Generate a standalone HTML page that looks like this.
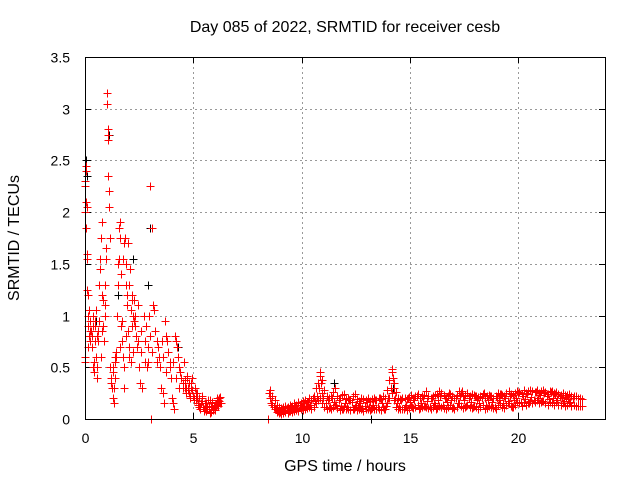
<!DOCTYPE html>
<html><head><meta charset="utf-8"><style>
body{margin:0;background:#fff}
svg{display:block;font-family:"Liberation Sans",sans-serif}
</style></head><body>
<svg id="chart" width="640" height="480">
<rect width="640" height="480" fill="#fff"/>
<g id="grid"></g>
<g id="ticks"></g>
<g id="black" stroke="#000" stroke-width="1" fill="none"></g>
<g id="red" stroke="#ff0000" stroke-width="1" fill="none"></g>
<rect x="85.5" y="57.5" width="520" height="362" fill="none" stroke="#000"/>
<text x="345" y="32" font-size="16" text-anchor="middle">Day 085 of 2022, SRMTID for receiver cesb</text>
<text x="345" y="471" font-size="16" text-anchor="middle">GPS time / hours</text>
<text x="19" y="238" font-size="16" text-anchor="middle" transform="rotate(-90 19 238)">SRMTID / TECUs</text>
</svg>
<script>
const xTicks=[0,5,10,15,20];
const yTicks=[0,0.5,1,1.5,2,2.5,3,3.5];
const yTickLabels=["0","0.5","1","1.5","2","2.5","3","3.5"];
const redTimes=[0,0,0,0.02,0.02,0.03,0.04,0.05,0.06,0.07,0.08,0.1,0.1,0.12,0.14,0.15,0.17,0.2,0.22,0.25,0.27,0.3,0.32,0.35,0.37,0.4,0.42,0.45,0.47,0.5,0.52,0.55,0.57,0.6,0.62,0.65,0.67,0.7,0.72,0.75,0.77,0.8,0.82,0.85,0.88,0.9,0.92,0.95,0.98,1.0,1.02,1.04,1.05,1.06,1.08,1.1,1.12,1.15,1.17,1.2,1.22,1.25,1.27,1.3,1.32,1.35,1.37,1.4,1.42,1.45,1.48,1.5,1.52,1.55,1.57,1.6,1.62,1.65,1.68,1.7,1.72,1.75,1.78,1.8,1.82,1.85,1.88,1.9,1.92,1.95,1.98,2.0,2.02,2.05,2.08,2.1,2.12,2.15,2.18,2.2,2.22,2.25,2.28,2.3,2.35,2.4,2.45,2.5,2.55,2.6,2.65,2.7,2.75,2.8,2.85,2.9,2.95,3.0,3.0,3.05,3.1,3.15,3.2,3.25,3.3,3.35,3.4,3.45,3.5,3.55,3.6,3.65,3.7,3.75,3.8,3.85,3.9,3.95,4.0,4.05,4.1,4.15,4.2,4.25,4.3,4.35,4.4,4.45,4.5,4.55,4.6,4.65,4.7,4.75,4.8,4.85,4.9,4.95,5.0,5.05,5.1,5.15,5.2,5.25,5.3,5.35,5.4,5.45,5.5,5.55,5.6,5.65,5.7,5.75,5.8,5.85,5.9,5.95,6.0,6.05,6.1,6.15,6.2,6.25,
8.45,8.5,8.55,8.6,8.7,8.8,8.9,9.0,9.1,9.2,9.3,9.4,9.5,9.6,9.7,9.8,9.9,10.0,10.1,10.2,10.3,10.4,10.5,10.6,10.7,10.8,10.85,10.9,10.95,11.0,11.1,11.2,11.3,11.4,11.5,11.6,11.7,11.8,11.9,12.0,12.1,12.2,12.3,12.4,12.5,12.6,12.7,12.8,12.9,13.0,13.1,13.2,13.3,13.4,13.5,13.6,13.7,13.8,13.9,14.0,14.1,14.15,14.2,14.25,14.3,14.4,14.5,14.6,14.7,14.8,14.9,15.0,15.1,15.2,15.3,15.4,15.5,15.6,15.7,15.8,15.9,16.0,16.1,16.2,16.3,16.4,16.5,16.6,16.7,16.8,16.9,17.0,17.1,17.2,17.3,17.4,17.5,17.6,17.7,17.8,17.9,18.0,18.1,18.2,18.3,18.4,18.5,18.6,18.7,18.8,18.9,19.0,19.1,19.2,19.3,19.4,19.5,19.6,19.7,19.8,19.9,20.0,20.1,20.2,20.3,20.4,20.5,20.6,20.7,20.8,20.9,21.0,21.1,21.2,21.3,21.4,21.5,21.6,21.7,21.8,21.9,22.0,22.1,22.2,22.3,22.4,22.5,22.6,22.7,22.8];
const redValues=[2.25,0.6,0.55,2.3,2.0,1.85,2.45,2.4,2.1,2.05,1.6,1.55,1.25,1.2,1.0,0.9,0.8,1.05,0.75,0.95,0.85,0.8,0.7,0.5,1.0,0.45,0.55,0.9,0.95,0.6,1.05,0.5,0.4,0.75,0.85,1.3,1.55,1.45,1.75,0.6,1.9,1.2,1.15,0.9,0.75,1.0,1.3,1.55,1.65,3.05,3.15,2.75,2.8,2.7,2.35,2.2,2.05,1.75,0.5,0.4,0.35,0.3,0.45,0.2,0.15,0.3,0.4,0.55,0.6,0.65,1.0,1.3,1.5,1.55,1.85,1.9,1.75,1.4,0.9,0.95,0.75,0.6,1.7,0.5,0.3,1.75,1.5,1.3,1.2,1.1,0.85,1.7,0.7,0.6,1.45,0.55,1.05,1.15,1.2,0.65,1.0,1.15,0.95,0.9,0.8,0.7,1.1,0.5,0.35,0.85,0.3,1.0,0.75,0.9,0.5,0.55,1.0,0.8,2.25,0,1.85,1.1,1.05,0.85,0.75,0.7,0.6,0.5,0.3,0.75,0.25,0.15,0.95,0.8,0.75,0.65,0.55,0.4,0.2,0.15,0.1,0.8,0.75,0.7,0.6,0.5,0.45,0.4,0.35,0.55,0.3,0.25,0.4,0.3,0.25,0.2,0.35,0.28,0.22,0.18,0.25,0.2,0.15,0.12,0.1,0.15,0.2,0.12,0.08,0.1,0.15,0.1,0.12,0.18,0.07,0.15,0.1,0.12,0.09,0.14,0.16,0.18,0.2,0.15,
0.0,0.25,0.2,0.15,0.12,0.1,0.08,0.07,0.1,0.09,0.11,0.08,0.12,0.1,0.13,0.11,0.14,0.12,0.15,0.13,0.16,0.14,0.2,0.17,0.22,0.3,0.45,0.35,0.25,0.2,0.15,0.18,0.12,0.2,0.16,0.14,0.18,0.13,0.1,0.15,0.12,0.18,0.16,0.1,0.14,0.12,0.15,0.11,0.13,0.16,0.12,0.1,0.14,0.18,0.12,0.2,0.15,0.1,0.13,0.2,0.3,0.48,0.4,0.3,0.2,0.15,0.12,0.18,0.1,0.14,0.2,0.16,0.12,0.18,0.22,0.1,0.15,0.2,0.13,0.17,0.12,0.2,0.15,0.1,0.18,0.22,0.14,0.2,0.16,0.25,0.18,0.12,0.2,0.15,0.22,0.27,0.18,0.13,0.2,0.16,0.12,0.22,0.18,0.15,0.2,0.25,0.14,0.18,0.22,0.16,0.12,0.2,0.18,0.24,0.15,0.2,0.17,0.22,0.12,0.18,0.2,0.25,0.16,0.22,0.19,0.24,0.15,0.21,0.18,0.26,0.2,0.23,0.17,0.25,0.22,0.19,0.26,0.2,0.24,0.18,0.22,0.2,0.17,0.21,0.19,0.16,0.2];
const bandTimes=[8.55,8.65,8.75,8.85,8.95,9.05,9.15,9.25,9.35,9.45,9.55,9.65,9.75,9.85,9.95,10.05,10.15,10.25,10.35,10.45,10.55,10.65,10.75,10.85,10.95,11.05,11.15,11.25,11.35,11.45,11.55,11.65,11.75,11.85,11.95,12.05,12.15,12.25,12.35,12.45,12.55,12.65,12.75,12.85,12.95,13.05,13.15,13.25,13.35,13.45,13.55,13.65,13.75,13.85,13.95,14.05,14.15,14.25,14.35,14.45,14.55,14.65,14.75,14.85,14.95,15.05,15.15,15.25,15.35,15.45,15.55,15.65,15.75,15.85,15.95,16.05,16.15,16.25,16.35,16.45,16.55,16.65,16.75,16.85,16.95,17.05,17.15,17.25,17.35,17.45,17.55,17.65,17.75,17.85,17.95,18.05,18.15,18.25,18.35,18.45,18.55,18.65,18.75,18.85,18.95,19.05,19.15,19.25,19.35,19.45,19.55,19.65,19.75,19.85,19.95,20.05,20.15,20.25,20.35,20.45,20.55,20.65,20.75,20.85,20.95,21.05,21.15,21.25,21.35,21.45,21.55,21.65,21.75,21.85,21.95,22.05,22.15,22.25,22.35,22.45,22.55,22.65,22.75,22.85,22.95];
const bandUpper=[0.28,0.22,0.18,0.14,0.12,0.11,0.12,0.13,0.12,0.14,0.13,0.15,0.14,0.16,0.15,0.17,0.18,0.16,0.2,0.18,0.22,0.3,0.35,0.42,0.38,0.28,0.22,0.2,0.22,0.26,0.3,0.22,0.2,0.23,0.24,0.19,0.2,0.18,0.22,0.24,0.19,0.17,0.2,0.19,0.18,0.2,0.17,0.19,0.2,0.18,0.2,0.19,0.22,0.2,0.28,0.38,0.45,0.35,0.26,0.2,0.19,0.2,0.2,0.19,0.21,0.23,0.2,0.22,0.24,0.2,0.22,0.23,0.27,0.22,0.2,0.22,0.23,0.24,0.27,0.25,0.23,0.2,0.22,0.24,0.22,0.2,0.23,0.27,0.25,0.22,0.23,0.25,0.22,0.24,0.23,0.22,0.21,0.22,0.24,0.2,0.22,0.23,0.22,0.2,0.22,0.25,0.24,0.23,0.22,0.25,0.27,0.24,0.23,0.25,0.27,0.26,0.24,0.28,0.25,0.27,0.28,0.27,0.26,0.28,0.25,0.27,0.28,0.26,0.24,0.27,0.27,0.25,0.26,0.24,0.23,0.25,0.23,0.23,0.24,0.22,0.22,0.22,0.2,0.2,0.19];
const bandLower=[0.2,0.14,0.1,0.07,0.06,0.05,0.06,0.07,0.06,0.08,0.07,0.08,0.09,0.08,0.1,0.09,0.1,0.11,0.12,0.1,0.12,0.15,0.18,0.2,0.15,0.12,0.1,0.11,0.1,0.12,0.14,0.11,0.09,0.1,0.12,0.1,0.1,0.09,0.1,0.12,0.09,0.1,0.1,0.08,0.1,0.1,0.09,0.11,0.1,0.1,0.1,0.09,0.12,0.1,0.15,0.2,0.25,0.18,0.12,0.1,0.1,0.1,0.12,0.09,0.11,0.13,0.11,0.12,0.14,0.11,0.12,0.13,0.12,0.11,0.1,0.12,0.14,0.11,0.13,0.12,0.11,0.1,0.12,0.14,0.11,0.1,0.12,0.15,0.13,0.11,0.12,0.14,0.12,0.11,0.13,0.12,0.1,0.12,0.14,0.1,0.11,0.13,0.12,0.11,0.1,0.14,0.15,0.12,0.11,0.14,0.15,0.13,0.12,0.14,0.16,0.15,0.13,0.16,0.14,0.15,0.17,0.15,0.16,0.18,0.15,0.16,0.17,0.15,0.14,0.16,0.15,0.14,0.16,0.14,0.14,0.15,0.13,0.14,0.15,0.13,0.14,0.13,0.13,0.13,0.13];
const earlyTimes=[4.6,4.65,4.7,4.75,4.8,4.85,4.9,4.95,5.02,5.08,5.12,5.18,5.22,5.28,5.32,5.38,5.42,5.48,5.52,5.58,5.62,5.68,5.72,5.78,5.82,5.88,5.92,5.98,6.02,6.08,6.12,6.18,6.22,6.28,0.15,0.25,0.35,0.45,0.55,0.65,0.8,0.9,1.3,1.4,1.6,1.75,1.9,2.05,2.15,2.3,2.45,2.6,2.75,2.9,3.1,3.3,3.45,3.6,3.75,3.9,4.05,4.2,4.35,4.5];
const earlyValues=[0.38,0.3,0.42,0.28,0.35,0.22,0.3,0.4,0.2,0.3,0.18,0.25,0.14,0.2,0.12,0.17,0.22,0.1,0.15,0.08,0.13,0.18,0.1,0.06,0.12,0.16,0.09,0.14,0.11,0.2,0.13,0.17,0.21,0.15,0.7,0.85,0.9,0.75,0.8,0.95,0.85,1.1,0.5,0.6,0.7,1.55,0.8,1.3,0.9,1.0,0.75,0.65,0.55,0.7,0.65,0.55,0.5,0.6,0.45,0.5,0.55,0.4,0.3,0.3];
const blackTimes=[0.05,0.08,1.05,1.1,3.0,1.5,2.2,3.9,4.3,11.5,14.2,13.2,0.5,2.9];
const blackValues=[2.5,2.35,2.8,2.75,1.85,1.2,1.55,0.55,0.7,0.35,0.3,0.0,0.95,1.3];
const xs=t=>85+t*(520/24);
const ys=v=>419-v*(362/3.5);
const NS="http://www.w3.org/2000/svg";
const grid=document.getElementById('grid'),ticks=document.getElementById('ticks');
function ln(g,x1,y1,x2,y2,st,dash){const l=document.createElementNS(NS,'line');l.setAttribute('x1',x1);l.setAttribute('y1',y1);l.setAttribute('x2',x2);l.setAttribute('y2',y2);l.setAttribute('stroke',st);if(dash)l.setAttribute('stroke-dasharray',dash);g.appendChild(l);return l;}
function tx(x,y,s,anchor){const t=document.createElementNS(NS,'text');t.setAttribute('x',x);t.setAttribute('y',y);t.setAttribute('font-size','14');t.setAttribute('text-anchor',anchor);t.textContent=s;ticks.appendChild(t);return t;}
xTicks.forEach(v=>{const x=Math.round(xs(v))+0.5;
 if(v>0){const g=ln(grid,x,57,x,419,'#999','2,3');
 
 }
 ln(ticks,x,419,x,413,'#000');ln(ticks,x,57,x,63,'#000');
 const t=tx(x,443,String(v),'middle');
 
 });
yTicks.forEach((v,i)=>{const y=Math.round(ys(v))+0.5;
 if(v>0&&v<3.5){const g=ln(grid,85,y,605,y,'#999','2,3');
 
 }
 ln(ticks,85,y,91,y,'#000');ln(ticks,605,y,599,y,'#000');
 const t=tx(70,y+5,yTickLabels[i],'end');
 
 });
function plus(g,t,v,name){const x=Math.round(xs(t))+0.5,y=Math.round(ys(v))+0.5;const p=document.createElementNS(NS,'path');
 p.setAttribute('d',`M${x-4} ${y}H${x+4}M${x} ${y-4}V${y+4}`);
 
 
 g.appendChild(p);}
const bg=document.getElementById('black'),rg=document.getElementById('red');
blackTimes.forEach((t,i)=>plus(bg,t,blackValues[i],'black-point'));
redTimes.forEach((t,i)=>plus(rg,t,redValues[i],'red-point'));
bandTimes.forEach((t,i)=>{plus(rg,t,bandUpper[i],'red-point');plus(rg,t,bandLower[i],'red-point');});
earlyTimes.forEach((t,i)=>plus(rg,t,earlyValues[i],'red-point'));
</script>
</body></html>
